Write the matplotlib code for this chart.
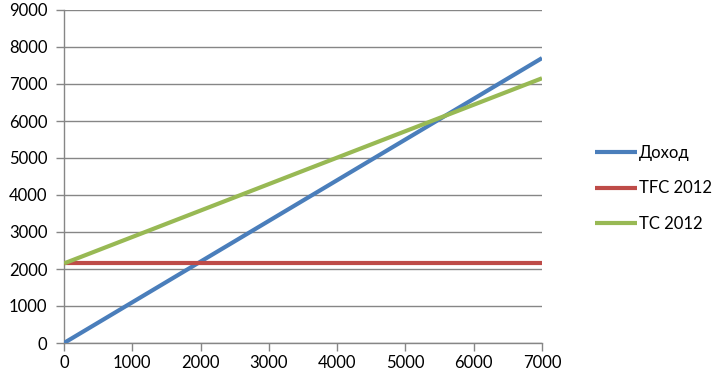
import numpy as np
import matplotlib.pyplot as plt

# values
x_vals = [0, 1000, 2000, 3000, 4000, 5000, 6000, 7000]
revenue = [0, 1100, 2200, 3300, 4400, 5500, 6600, 7700]
tfc_2012 = [2150, 2150, 2150, 2150, 2150, 2150, 2150, 2150]
tc_2012 = [2150, 2865, 3580, 4295, 5010, 5725, 6440, 7155]
series_names = ["Доход", "TFC 2012", "TC 2012"]
series_colors = ["#4A7EBB", "#BE4B48", "#98B954"]

plt.rcParams["font.family"] = ["Lato", "DejaVu Sans"]

fig = plt.figure(figsize=(7.2, 3.77), dpi=100)
ax = fig.add_axes([64 / 720, 34 / 377, 478 / 720, 333 / 377])

for vals, name, col in zip([revenue, tfc_2012, tc_2012], series_names, series_colors):
    ax.plot(x_vals, vals, color=col, linewidth=3, label=name, solid_capstyle="butt", zorder=3)

ax.set_xlim(0, 7000)
ax.set_ylim(0, 9000)
ax.set_xticks(np.arange(0, 7001, 1000))
ax.set_yticks(np.arange(0, 9001, 1000))
ax.yaxis.grid(True, color="#868686", linewidth=1)
ax.set_axisbelow(True)

for side in ["top", "right"]:
    ax.spines[side].set_visible(False)
for side in ["left", "bottom"]:
    ax.spines[side].set_color("#868686")
    ax.spines[side].set_linewidth(1)
ax.tick_params(axis="both", colors="#868686", length=6, width=1, labelcolor="black", labelsize=12)
ax.tick_params(axis="x", pad=3)
ax.tick_params(axis="y", pad=6)

fig.legend(loc="center left", bbox_to_anchor=(580 / 720, 0.5), frameon=False, fontsize=12,
           handlelength=2.5, handletextpad=0.15, labelspacing=1.15)

fig.savefig("out.png", dpi=100)
